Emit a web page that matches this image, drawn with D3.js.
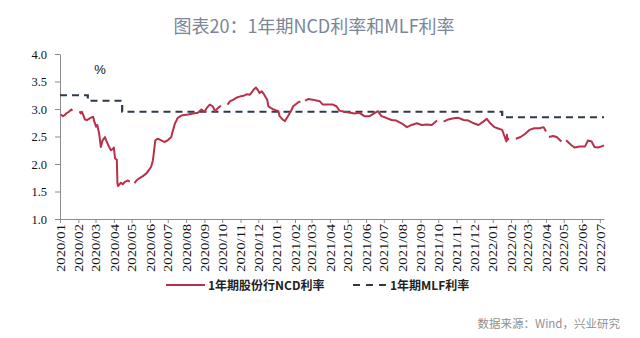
<!DOCTYPE html>
<html>
<head>
<meta charset="utf-8">
<script src="https://cdn.jsdelivr.net/npm/d3@7"></script>
<style>
  html, body { margin: 0; padding: 0; background: #fff; }
  svg { display: block; }
</style>
</head>
<body>
<svg id="chart" width="640" height="338"></svg>
<script>
// 1-year joint-stock bank NCD rate (daily, sampled); null marks holiday gaps
const ncdDates = [
  "2020-01-02","2020-01-06","2020-01-09","2020-01-13","2020-01-16","2020-01-20","2020-01-22","2020-01-23",
  "2020-02-03","2020-02-05","2020-02-07","2020-02-10","2020-02-12","2020-02-16","2020-02-20","2020-02-26","2020-02-28",
  "2020-03-02","2020-03-04","2020-03-07","2020-03-10","2020-03-13","2020-03-17","2020-03-19","2020-03-24","2020-03-27","2020-03-30",
  "2020-04-01","2020-04-03","2020-04-06","2020-04-07","2020-04-08","2020-04-13","2020-04-16","2020-04-19","2020-04-24","2020-04-28","2020-04-30",
  "2020-05-06","2020-05-09","2020-05-14","2020-05-20","2020-05-26","2020-05-30",
  "2020-06-03","2020-06-06","2020-06-08","2020-06-10","2020-06-14","2020-06-20","2020-06-25",
  "2020-07-01","2020-07-07","2020-07-09","2020-07-13","2020-07-18","2020-07-24","2020-07-29",
  "2020-08-04","2020-08-13","2020-08-21","2020-08-27",
  "2020-09-01","2020-09-05","2020-09-10","2020-09-15","2020-09-19","2020-09-24","2020-09-29","2020-09-30",
  "2020-10-10","2020-10-14","2020-10-20","2020-10-26",
  "2020-11-01","2020-11-06","2020-11-12","2020-11-17","2020-11-23","2020-11-27","2020-11-30",
  "2020-12-03","2020-12-07","2020-12-11","2020-12-16","2020-12-18","2020-12-22","2020-12-27",
  "2021-01-04","2021-01-06","2021-01-11","2021-01-15","2021-01-20","2021-01-25","2021-01-29",
  "2021-02-05","2021-02-10","2021-02-11",
  "2021-02-18","2021-02-23","2021-03-03","2021-03-11","2021-03-15","2021-03-20","2021-03-29",
  "2021-04-06","2021-04-12","2021-04-17","2021-04-25",
  "2021-05-06","2021-05-12","2021-05-21","2021-05-29",
  "2021-06-07","2021-06-16","2021-06-21","2021-06-27",
  "2021-07-05","2021-07-14","2021-07-22","2021-07-31",
  "2021-08-09","2021-08-17","2021-08-26",
  "2021-09-03","2021-09-12","2021-09-20","2021-09-29","2021-09-30",
  "2021-10-10","2021-10-18","2021-10-27",
  "2021-11-04","2021-11-13","2021-11-21","2021-11-30",
  "2021-12-08","2021-12-16","2021-12-22","2021-12-28",
  "2022-01-04","2022-01-09","2022-01-17","2022-01-21","2022-01-24","2022-01-25","2022-01-26","2022-01-28","2022-01-29",
  "2022-02-09","2022-02-17","2022-02-25",
  "2022-03-04","2022-03-12","2022-03-21","2022-03-28",
  "2022-04-01","2022-04-03",
  "2022-04-06","2022-04-13","2022-04-19","2022-04-27","2022-04-29",
  "2022-05-05","2022-05-13","2022-05-19","2022-05-28",
  "2022-06-06","2022-06-11","2022-06-17","2022-06-22","2022-06-28",
  "2022-07-04","2022-07-08"
];
const ncdValues = [
  2.90,2.87,2.89,2.93,2.95,2.99,2.97,null,
  2.96,2.92,2.95,2.87,2.81,2.80,2.83,2.86,2.77,
  2.68,2.71,2.56,2.31,2.43,2.49,2.43,2.31,2.25,2.27,
  2.30,2.10,2.08,1.65,1.60,1.66,1.63,1.67,1.70,1.68,null,
  1.65,1.70,1.74,1.78,1.83,1.89,
  1.95,2.07,2.25,2.43,2.46,2.43,2.40,
  2.43,2.49,2.58,2.73,2.84,2.88,2.89,
  2.90,2.92,2.93,2.99,
  2.95,3.02,3.08,3.05,2.96,3.02,3.06,null,
  3.08,3.14,3.17,3.21,
  3.23,3.24,3.27,3.26,3.35,3.39,3.35,
  3.29,3.32,3.26,3.17,3.05,3.02,2.99,
  2.96,2.87,2.81,2.78,2.87,2.96,3.05,
  3.11,3.14,null,
  3.15,3.18,3.17,3.15,3.14,3.08,3.08,
  3.08,3.05,2.97,2.95,
  2.93,2.92,2.93,2.87,
  2.87,2.93,2.96,2.87,
  2.84,2.80,2.79,2.74,
  2.67,2.71,2.74,
  2.71,2.72,2.71,2.79,null,
  2.77,2.81,2.83,
  2.84,2.80,2.79,2.74,
  2.71,2.77,2.82,2.74,
  2.67,2.65,2.62,2.50,2.41,2.53,2.44,2.47,null,
  2.46,2.49,2.55,
  2.62,2.65,2.65,2.67,
  2.59,null,
  2.49,2.51,2.49,2.41,null,
  2.43,2.35,2.30,2.32,
  2.32,2.43,2.41,2.31,2.30,
  2.32,2.34
];

// 1-year MLF rate, step changes
const mlfDates  = ["2020-01-01","2020-02-17","2020-04-15","2022-01-17","2022-07-08"];
const mlfValues = [3.25, 3.15, 2.95, 2.85, 2.85];

const yTicks = [1.0, 1.5, 2.0, 2.5, 3.0, 3.5, 4.0];
const seriesNames = ["1年期股份行NCD利率", "1年期MLF利率"];
const titleText = "图表20：1年期NCD利率和MLF利率";
const sourceText = "数据来源：Wind，兴业研究";

const parse = d3.utcParse("%Y-%m-%d");
const ncd = ncdDates.map((d, i) => ({ date: parse(d), value: ncdValues[i] }));
const mlf = mlfDates.map((d, i) => ({ date: parse(d), value: mlfValues[i] }));

const svg = d3.select("#chart");
const plot = { left: 60, right: 604, top: 54, bottom: 219 };

const x = d3.scaleUtc()
  .domain([parse("2020-01-01"), parse("2022-07-08")])
  .range([plot.left, plot.right]);
const y = d3.scaleLinear().domain([1, 4]).range([plot.bottom, plot.top]);

// title
svg.append("text")
  .attr("x", 314).attr("y", 33)
  .attr("text-anchor", "middle")
  .style("font-family", "'Noto Sans CJK SC', 'Noto Sans', sans-serif")
  .style("font-size", "18px")
  .style("fill", "#7b8697")
  .text(titleText);

// y axis
const yAxis = svg.append("g")
  .attr("transform", `translate(${plot.left},0)`)
  .call(d3.axisLeft(y).tickValues(yTicks).tickFormat(d3.format(".1f")).tickSize(5).tickSizeOuter(0));
yAxis.select(".domain").attr("stroke", "#8c8c8c");
yAxis.selectAll(".tick line").attr("stroke", "#8c8c8c");
yAxis.selectAll(".tick text")
  .attr("x", -13)
  .style("font-family", "'Liberation Serif', 'Times New Roman', serif")
  .style("font-size", "12.5px")
  .style("fill", "#111");

// x axis with monthly ticks
const months = d3.utcMonth.range(parse("2020-01-01"), parse("2022-07-02"));
const xAxis = svg.append("g")
  .attr("transform", `translate(0,${plot.bottom})`)
  .call(d3.axisBottom(x).tickValues(months).tickFormat(d3.utcFormat("%Y/%m")).tickSize(4).tickSizeOuter(0));
xAxis.select(".domain").attr("stroke", "#8c8c8c");
xAxis.selectAll(".tick line").attr("stroke", "#8c8c8c");
xAxis.selectAll(".tick text")
  .attr("transform", "rotate(-90)")
  .attr("text-anchor", "end")
  .attr("x", -5).attr("y", 0).attr("dy", "0.35em")
  .attr("textLength", 48)
  .attr("lengthAdjust", "spacingAndGlyphs")
  .style("font-family", "'Liberation Serif', 'Times New Roman', serif")
  .style("font-size", "12px")
  .style("fill", "#111");

// unit label
svg.append("text")
  .attr("x", 100).attr("y", 74)
  .attr("text-anchor", "middle")
  .style("font-family", "'Liberation Sans', Arial, sans-serif")
  .style("font-size", "13px")
  .style("fill", "#111")
  .text("%");

// MLF step line (dashed)
svg.append("path")
  .datum(mlf)
  .attr("fill", "none")
  .attr("stroke", "#2e3a4c")
  .attr("stroke-width", 2.2)
  .attr("stroke-dasharray", "7,5")
  .attr("d", d3.line().x(d => x(d.date)).y(d => y(d.value)).curve(d3.curveStepAfter));

// NCD line
svg.append("path")
  .datum(ncd)
  .attr("fill", "none")
  .attr("stroke", "#b83049")
  .attr("stroke-width", 2)
  .attr("stroke-linejoin", "round")
  .attr("d", d3.line().defined(d => d.value !== null).x(d => x(d.date)).y(d => y(d.value)));

// legend
const lg = svg.append("g");
lg.append("line").attr("x1", 166).attr("x2", 205).attr("y1", 285).attr("y2", 285)
  .attr("stroke", "#b83049").attr("stroke-width", 2.2);
lg.append("text").attr("x", 208).attr("y", 289.5)
  .style("font-family", "'Noto Sans CJK SC', sans-serif")
  .style("font-size", "12px").style("font-weight", "bold").style("fill", "#222")
  .text(seriesNames[0]);
lg.append("line").attr("x1", 353).attr("x2", 389).attr("y1", 285).attr("y2", 285)
  .attr("stroke", "#2e3a4c").attr("stroke-width", 2.2).attr("stroke-dasharray", "7,6");
lg.append("text").attr("x", 390).attr("y", 289.5)
  .style("font-family", "'Noto Sans CJK SC', sans-serif")
  .style("font-size", "12px").style("font-weight", "bold").style("fill", "#222")
  .text(seriesNames[1]);

// source note
svg.append("text")
  .attr("x", 620).attr("y", 328)
  .attr("text-anchor", "end")
  .style("font-family", "'Noto Sans CJK SC', sans-serif")
  .style("font-size", "11.5px")
  .style("fill", "#8f8f8f")
  .text(sourceText);
</script>
</body>
</html>
